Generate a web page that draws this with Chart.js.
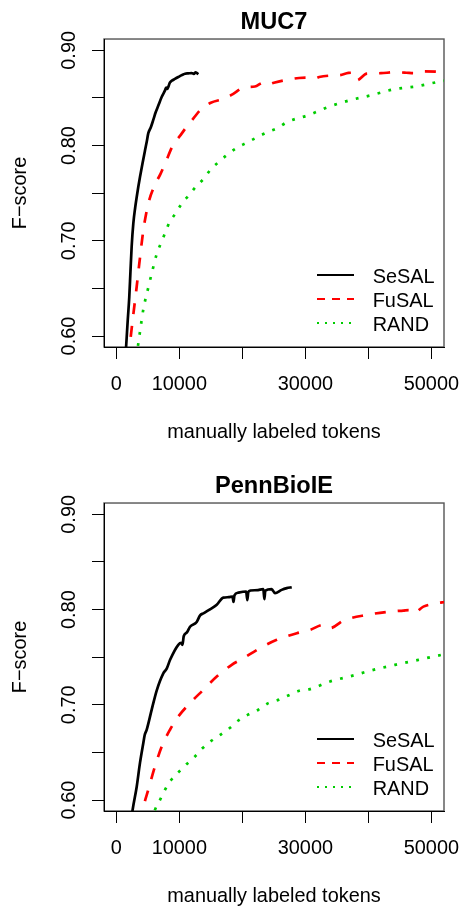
<!DOCTYPE html>
<html>
<head>
<meta charset="utf-8">
<title>F-score learning curves</title>
<script src="https://cdn.jsdelivr.net/npm/chart.js@4.4.1/dist/chart.umd.min.js"></script>
<style>
  html, body { margin: 0; padding: 0; background: #fff; width: 460px; height: 906px; overflow: hidden; }
  .panel { position: absolute; left: 0; width: 460px; height: 464px; }
</style>
</head>
<body>
<div class="panel" style="top:0"><canvas id="muc7" width="460" height="464"></canvas></div>
<div class="panel" style="top:464px"><canvas id="penn" width="460" height="464"></canvas></div>
<script>
// ---- MUC7 learning curves (tokens, F-score) ----
const MUC7_SESAL_TOKENS = [1350, 1560, 1800, 2060, 2250, 2440, 2700, 3000, 3240, 3500, 3760, 4150, 4560, 4830, 5080, 5470, 5870, 6250, 6670, 7200, 7730, 7900, 8100, 8250, 8500, 8790, 9300, 9840, 10400, 10900, 11400, 11960, 12300, 12600, 13020];
const MUC7_SESAL_F = [0.570, 0.589, 0.615, 0.641, 0.668, 0.694, 0.718, 0.735, 0.746, 0.757, 0.767, 0.781, 0.795, 0.804, 0.813, 0.819, 0.827, 0.835, 0.842, 0.851, 0.858, 0.861, 0.8595, 0.8616, 0.866, 0.868, 0.870, 0.872, 0.874, 0.8755, 0.8758, 0.8762, 0.8752, 0.877, 0.8749];

const MUC7_FUSAL_TOKENS = [1900, 2170, 2600, 3240, 3650, 4290, 5080, 6140, 7000, 7730, 9050, 10200, 11180, 12300, 13290, 15000, 16980, 18500, 19600, 20160, 22000, 23300, 23900, 25000, 27050, 29000, 30750, 31500, 32200, 33920, 35500, 36830, 37500, 38160, 39750, 42000, 43970, 46000, 47140, 48730, 50860, 52100];
const MUC7_FUSAL_F = [0.575, 0.592, 0.617, 0.652, 0.676, 0.711, 0.739, 0.759, 0.770, 0.781, 0.801, 0.811, 0.820, 0.829, 0.837, 0.845, 0.849, 0.854, 0.859, 0.861, 0.862, 0.866, 0.864, 0.866, 0.869, 0.871, 0.8714, 0.8705, 0.872, 0.8735, 0.874, 0.8763, 0.8765, 0.8686, 0.8756, 0.876, 0.877, 0.8765, 0.876, 0.878, 0.8777, 0.8745];

const MUC7_RAND_TOKENS = [3200, 3490, 3760, 4290, 5080, 5780, 6410, 7050, 7730, 8410, 9430, 10380, 11540, 12650, 13920, 14980, 16300, 17620, 19110, 20700, 22290, 23870, 25560, 27100, 30480, 33650, 37100, 40540, 43970, 47680, 51650, 52100];
const MUC7_RAND_F = [0.578, 0.592, 0.6045, 0.628, 0.651, 0.670, 0.686, 0.697, 0.708, 0.719, 0.729, 0.739, 0.748, 0.757, 0.7655, 0.775, 0.783, 0.7905, 0.7975, 0.803, 0.8085, 0.8137, 0.8183, 0.8247, 0.832, 0.8406, 0.8476, 0.853, 0.859, 0.8623, 0.8676, 0.868];

// ---- PennBioIE learning curves (tokens, F-score) ----
const PENN_SESAL_TOKENS = [2300, 2600, 3240, 3760, 4290, 4500, 4830, 5620, 6410, 7460, 8000, 8520, 9840, 10300, 10500, 10700, 11200, 11700, 12760, 13300, 13810, 14800, 15940, 16980, 17800, 18450, 18600, 18750, 19370, 20600, 20800, 20950, 21300, 22500, 23330, 23500, 23650, 24650, 25180, 26240, 27050, 27840];
const PENN_SESAL_F = [0.575, 0.590, 0.614, 0.639, 0.660, 0.668, 0.674, 0.695, 0.715, 0.733, 0.738, 0.747, 0.763, 0.765, 0.763, 0.772, 0.776, 0.782, 0.787, 0.794, 0.796, 0.800, 0.805, 0.8126, 0.813, 0.8136, 0.808, 0.815, 0.8178, 0.819, 0.810, 0.8185, 0.820, 0.8205, 0.8214, 0.811, 0.820, 0.8214, 0.8172, 0.8207, 0.8225, 0.8235];

const PENN_FUSAL_TOKENS = [3900, 4290, 5080, 6140, 7210, 8520, 9840, 11700, 13810, 15940, 18320, 20160, 22810, 25460, 28640, 30750, 32860, 33920, 36030, 39750, 43440, 45560, 46400, 47140, 48730, 50860, 52100];
const PENN_FUSAL_F = [0.575, 0.5916, 0.6108, 0.6353, 0.6562, 0.6738, 0.6877, 0.7018, 0.7157, 0.7297, 0.742, 0.749, 0.7595, 0.7682, 0.7752, 0.7787, 0.7839, 0.7805, 0.7885, 0.7944, 0.7979, 0.799, 0.7995, 0.7962, 0.8031, 0.8067, 0.808];

const PENN_RAND_TOKENS = [5600, 6140, 6940, 7730, 8520, 9840, 11180, 12490, 13710, 15140, 16570, 18050, 19370, 20950, 22540, 24130, 25710, 27300, 29050, 30750, 33920, 37370, 40790, 44240, 47940, 51650, 52100];
const PENN_RAND_F = [0.578, 0.5898, 0.6003, 0.6108, 0.6195, 0.629, 0.6378, 0.6458, 0.6546, 0.6625, 0.6688, 0.6759, 0.6835, 0.6898, 0.6948, 0.7018, 0.7052, 0.7098, 0.7147, 0.7165, 0.7245, 0.7304, 0.7367, 0.742, 0.7472, 0.7525, 0.753];

// ---- labels and ticks ----
const SERIES_NAMES = ['SeSAL', 'FuSAL', 'RAND'];
const X_TICKS = [0, 10000, 20000, 30000, 40000, 50000];
const X_TICK_LABELS = ['0', '10000', '', '30000', '', '50000'];
const Y_TICKS = [0.60, 0.65, 0.70, 0.75, 0.80, 0.85, 0.90];
const Y_TICK_LABELS = ['0.60', '', '0.70', '', '0.80', '', '0.90'];
const X_TITLE = 'manually labeled tokens';
const Y_TITLE = 'F\u2212score';

// ---- styling ----
const FONT_FAMILY = '"Liberation Sans", Arial, Helvetica, sans-serif';
const BASE_SIZE = 19.9;
const SERIES_STYLE = [
  { color: '#000000', dash: [], legendDash: [] },
  { color: '#ff0000', dash: [11, 12], legendDash: [8, 7] },
  { color: '#00cd00', dash: [2.8, 8.4], legendDash: [2, 6] }
];

Chart.defaults.font.family = FONT_FAMILY;
Chart.defaults.color = '#000';

function toPoints(xs, ys) {
  return xs.map((x, i) => ({ x: x, y: ys[i] }));
}

// frame around the plotting region
const plotFrame = {
  id: 'plotFrame',
  beforeDraw(chart) {
    const { ctx, chartArea: a } = chart;
    ctx.save();
    ctx.strokeStyle = '#555';
    ctx.lineWidth = 1.4;
    ctx.strokeRect(a.left, a.top, a.right - a.left, a.bottom - a.top);
    ctx.restore();
  }
};

// key in the lower right corner of the plotting region
const cornerKey = {
  id: 'cornerKey',
  afterDatasetsDraw(chart) {
    const { ctx, chartArea: a } = chart;
    const rows = [72, 48, 24];
    ctx.save();
    chart.data.datasets.forEach((ds, i) => {
      const y = a.bottom - rows[i];
      const st = SERIES_STYLE[i];
      ctx.beginPath();
      ctx.setLineDash(st.legendDash);
      ctx.lineWidth = 2;
      ctx.strokeStyle = st.color;
      ctx.moveTo(a.right - 127, y);
      ctx.lineTo(a.right - 90, y);
      ctx.stroke();
      ctx.setLineDash([]);
      ctx.fillStyle = '#000';
      ctx.font = BASE_SIZE + 'px ' + FONT_FAMILY;
      ctx.textBaseline = 'alphabetic';
      ctx.textAlign = 'left';
      ctx.fillText(ds.label, a.right - 71.3, y + 7.7);
    });
    ctx.restore();
  }
};

function makePanel(canvasId, title, series) {
  const datasets = series.map((s, i) => ({
    label: SERIES_NAMES[i],
    data: toPoints(s[0], s[1]),
    borderColor: SERIES_STYLE[i].color,
    borderWidth: 2.7,
    borderDash: SERIES_STYLE[i].dash,
    borderCapStyle: 'butt',
    borderJoinStyle: 'round',
    pointRadius: 0,
    fill: false,
    tension: 0,
    cubicInterpolationMode: 'monotone',
    clip: 0
  }));

  return new Chart(document.getElementById(canvasId), {
    type: 'line',
    data: { datasets: datasets },
    options: {
      responsive: false,
      animation: false,
      devicePixelRatio: 1,
      events: [],
      layout: { padding: { left: 0, right: 16, top: 0, bottom: 0 } },
      plugins: {
        legend: { display: false },
        tooltip: { enabled: false },
        title: {
          display: true,
          text: title,
          fullSize: false,
          color: '#000',
          font: { size: 23.6, weight: 'bold', lineHeight: 1.2 },
          padding: { top: 8.2, bottom: 2.5 }
        }
      },
      scales: {
        x: {
          type: 'linear',
          position: 'bottom',
          min: -1950,
          max: 52000,
          afterBuildTicks: (s) => { s.ticks = X_TICKS.map(v => ({ value: v })); },
          afterFit: (s) => {
            s.height = 117;
            s.paddingLeft = 0; s.paddingRight = 0; s.paddingTop = 0; s.paddingBottom = 0;
          },
          ticks: {
            autoSkip: false,
            maxRotation: 0,
            minRotation: 0,
            padding: 13.6,
            color: '#000',
            font: { size: BASE_SIZE, lineHeight: 1.2 },
            callback: (v, i) => X_TICK_LABELS[i]
          },
          grid: {
            display: true,
            drawOnChartArea: false,
            drawTicks: true,
            tickLength: 12,
            tickColor: '#000',
            tickWidth: 1
          },
          border: { display: true, color: '#000', width: 1 },
          title: {
            display: true,
            text: X_TITLE,
            color: '#000',
            font: { size: BASE_SIZE, lineHeight: 1.2 },
            padding: { top: 0, bottom: 19.8 }
          }
        },
        y: {
          type: 'linear',
          position: 'left',
          min: 0.5885,
          max: 0.9119,
          afterBuildTicks: (s) => { s.ticks = Y_TICKS.map(v => ({ value: v })); },
          afterFit: (s) => {
            s.width = 104;
            s.paddingLeft = 0; s.paddingRight = 0; s.paddingTop = 0; s.paddingBottom = 0;
          },
          ticks: {
            autoSkip: false,
            minRotation: 90,
            maxRotation: 90,
            crossAlign: 'center',
            padding: 3.5,
            color: '#000',
            font: { size: BASE_SIZE, lineHeight: 1.2 },
            callback: (v, i) => Y_TICK_LABELS[i]
          },
          grid: {
            display: true,
            drawOnChartArea: false,
            drawTicks: true,
            tickLength: 12,
            tickColor: '#000',
            tickWidth: 1
          },
          border: { display: true, color: '#000', width: 1 },
          title: {
            display: true,
            text: Y_TITLE,
            color: '#000',
            font: { size: BASE_SIZE, lineHeight: 1.2 },
            padding: { top: 8.6, bottom: 0 }
          }
        }
      }
    },
    plugins: [plotFrame, cornerKey]
  });
}

makePanel('muc7', 'MUC7', [
  [MUC7_SESAL_TOKENS, MUC7_SESAL_F],
  [MUC7_FUSAL_TOKENS, MUC7_FUSAL_F],
  [MUC7_RAND_TOKENS, MUC7_RAND_F]
]);

makePanel('penn', 'PennBioIE', [
  [PENN_SESAL_TOKENS, PENN_SESAL_F],
  [PENN_FUSAL_TOKENS, PENN_FUSAL_F],
  [PENN_RAND_TOKENS, PENN_RAND_F]
]);
</script>
</body>
</html>
